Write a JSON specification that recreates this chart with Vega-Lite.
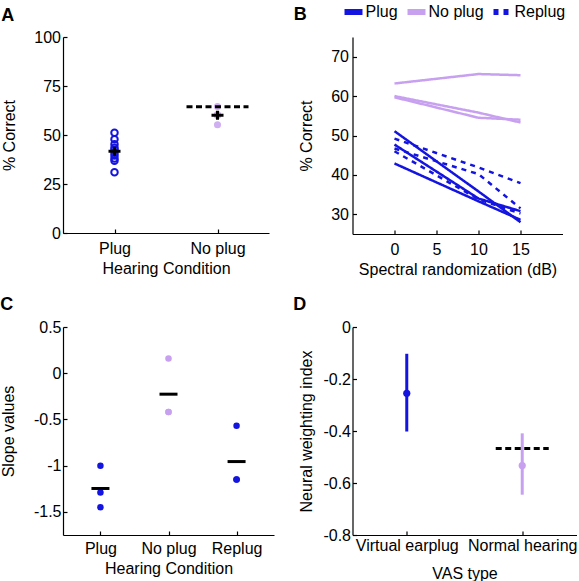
{
  "$schema": "https://vega.github.io/schema/vega-lite/v6.json",
  "padding": {"left": 0, "top": 0, "right": 0, "bottom": 0},
  "columns": 2,
  "bounds": "flush",
  "align": "each",
  "spacing": {"row": 93, "column": 78.5},
  "resolve": {"scale": {"color": "independent", "strokeDash": "independent"}, "legend": {"color": "independent", "strokeDash": "independent"}},
  "config": {
    "font": "Liberation Sans",
    "view": {"stroke": null},
    "axis": {
      "domainColor": "black", "tickColor": "black", "labelColor": "black", "titleColor": "black",
      "labelFontSize": 16, "titleFontSize": 16, "titleFontWeight": "normal",
      "labelFont": "Liberation Sans", "titleFont": "Liberation Sans",
      "grid": false, "tickSize": -4, "domainWidth": 1.2, "tickWidth": 1.2
    },
    "title": {"fontSize": 18, "fontWeight": "bold", "anchor": "start", "frame": "bounds", "color": "black", "font": "Liberation Sans"}
  },
  "concat": [
    {
      "width": 206, "height": 196,
      "title": {"text": "A", "offset": 4},
      "data": {"values": [
        {"cond": "Plug", "pct": 51.2}, {"cond": "Plug", "pct": 47.8}, {"cond": "Plug", "pct": 45.3},
        {"cond": "Plug", "pct": 43.5}, {"cond": "Plug", "pct": 42.5}, {"cond": "Plug", "pct": 41.0},
        {"cond": "Plug", "pct": 39.5}, {"cond": "Plug", "pct": 38.0}, {"cond": "Plug", "pct": 36.8},
        {"cond": "Plug", "pct": 31.0},
        {"cond": "No plug", "pct": 64.5}, {"cond": "No plug", "pct": 60.2}, {"cond": "No plug", "pct": 60.0},
        {"cond": "No plug", "pct": 60.5}, {"cond": "No plug", "pct": 55.2}
      ]},
      "encoding": {
        "x": {"field": "cond", "type": "nominal", "title": "Hearing Condition",
              "scale": {"type": "point", "domain": ["Plug", "No plug"], "padding": 0.5},
              "axis": {"labelAngle": 0, "labelPadding": 11.6, "titlePadding": 4}},
        "y": {"field": "pct", "type": "quantitative", "title": "% Correct",
              "scale": {"domain": [0, 100], "nice": false},
              "axis": {"values": [0, 25, 50, 75, 100], "labelPadding": 6.5, "titlePadding": 16.6}}
      },
      "layer": [
        {"transform": [{"filter": "datum.cond == 'Plug'"}],
         "mark": {"type": "point", "filled": false, "strokeWidth": 2, "size": 42, "color": "#1414e0", "opacity": 1}},
        {"transform": [{"filter": "datum.cond == 'No plug'"}],
         "mark": {"type": "circle", "size": 50, "color": "#c8a0f0", "opacity": 0.85}},
        {"mark": {"type": "point", "shape": "M-1.2,0H1.2M0,-0.9V0.9", "filled": false, "stroke": "black", "strokeWidth": 3, "size": 100, "opacity": 1},
         "encoding": {"y": {"aggregate": "mean", "field": "pct", "type": "quantitative"}}},
        {"data": {"values": [{"cond": "No plug", "ref": 64.4}]},
         "mark": {"type": "point", "shape": "M-1,0H1", "filled": false, "stroke": "black", "strokeWidth": 3, "strokeDash": [6, 3.5], "size": 3844, "opacity": 1},
         "encoding": {"y": {"field": "ref", "type": "quantitative"}}}
      ]
    },
    {
      "width": 210, "height": 197,
      "title": {"text": "B", "offset": -24, "dx": -5},
      "data": {"values": [
        {"cond": "Plug", "subj": "P1", "db": 0, "pct": 51.1}, {"cond": "Plug", "subj": "P1", "db": 10, "pct": 35.8}, {"cond": "Plug", "subj": "P1", "db": 15, "pct": 28.0},
        {"cond": "Plug", "subj": "P2", "db": 0, "pct": 47.7}, {"cond": "Plug", "subj": "P2", "db": 10, "pct": 34.0}, {"cond": "Plug", "subj": "P2", "db": 15, "pct": 30.8},
        {"cond": "Plug", "subj": "P3", "db": 0, "pct": 42.9}, {"cond": "Plug", "subj": "P3", "db": 10, "pct": 33.3}, {"cond": "Plug", "subj": "P3", "db": 15, "pct": 28.6},
        {"cond": "No plug", "subj": "N1", "db": 0, "pct": 63.2}, {"cond": "No plug", "subj": "N1", "db": 10, "pct": 65.6}, {"cond": "No plug", "subj": "N1", "db": 15, "pct": 65.3},
        {"cond": "No plug", "subj": "N2", "db": 0, "pct": 60.0}, {"cond": "No plug", "subj": "N2", "db": 10, "pct": 55.8}, {"cond": "No plug", "subj": "N2", "db": 15, "pct": 53.3},
        {"cond": "No plug", "subj": "N3", "db": 0, "pct": 59.7}, {"cond": "No plug", "subj": "N3", "db": 10, "pct": 54.5}, {"cond": "No plug", "subj": "N3", "db": 15, "pct": 54.0},
        {"cond": "Replug", "subj": "R1", "db": 0, "pct": 49.2}, {"cond": "Replug", "subj": "R1", "db": 10, "pct": 41.9}, {"cond": "Replug", "subj": "R1", "db": 15, "pct": 37.9},
        {"cond": "Replug", "subj": "R2", "db": 0, "pct": 46.7}, {"cond": "Replug", "subj": "R2", "db": 10, "pct": 40.2}, {"cond": "Replug", "subj": "R2", "db": 15, "pct": 31.5},
        {"cond": "Replug", "subj": "R3", "db": 0, "pct": 46.0}, {"cond": "Replug", "subj": "R3", "db": 10, "pct": 33.8}, {"cond": "Replug", "subj": "R3", "db": 15, "pct": 30.2}
      ]},
      "mark": {"type": "line", "strokeWidth": 2.5},
      "encoding": {
        "x": {"field": "db", "type": "quantitative", "title": "Spectral randomization (dB)",
              "scale": {"domain": [-5, 20], "nice": false},
              "axis": {"values": [0, 5, 10, 15], "labelPadding": 11.3, "titlePadding": 4}},
        "y": {"field": "pct", "type": "quantitative", "title": "% Correct",
              "scale": {"domain": [25, 75], "nice": false, "zero": false},
              "axis": {"values": [30, 40, 50, 60, 70], "labelPadding": 8, "titlePadding": 15.9}},
        "color": {"field": "cond", "type": "nominal", "title": null,
                  "scale": {"domain": ["Plug", "No plug", "Replug"], "range": ["#1414e0", "#c8a0f0", "#1414e0"]},
                  "legend": {"orient": "none", "legendX": -11, "legendY": -37, "direction": "horizontal",
                             "symbolType": "stroke", "symbolStrokeWidth": 6, "symbolSize": 324,
                             "labelFontSize": 16, "labelColor": "black", "columnPadding": -3, "labelOffset": 0, "padding": 0}},
        "strokeDash": {"field": "cond", "type": "nominal", "title": null,
                  "scale": {"domain": ["Plug", "No plug", "Replug"], "range": [[1, 0], [1, 0], [5, 5]]},
                  "legend": {"orient": "none", "legendX": -11, "legendY": -37, "direction": "horizontal",
                             "symbolType": "stroke", "symbolStrokeWidth": 6, "symbolSize": 324,
                             "labelFontSize": 16, "labelColor": "black", "columnPadding": -3, "labelOffset": 0, "padding": 0}},
        "detail": {"field": "subj", "type": "nominal"}
      }
    },
    {
      "width": 211, "height": 208,
      "title": {"text": "C", "offset": 5},
      "data": {"values": [
        {"cond": "Plug", "slope": -1.0}, {"cond": "Plug", "slope": -1.29}, {"cond": "Plug", "slope": -1.45},
        {"cond": "No plug", "slope": 0.16}, {"cond": "No plug", "slope": -0.42}, {"cond": "No plug", "slope": -0.42},
        {"cond": "Replug", "slope": -0.567}, {"cond": "Replug", "slope": -1.15}, {"cond": "Replug", "slope": -1.15}
      ]},
      "encoding": {
        "x": {"field": "cond", "type": "nominal", "title": "Hearing Condition",
              "scale": {"type": "point", "domain": ["Plug", "No plug", "Replug"], "padding": 0.55},
              "axis": {"labelAngle": 0, "labelPadding": 9.5, "titlePadding": 4}},
        "y": {"field": "slope", "type": "quantitative", "title": "Slope values",
              "scale": {"domain": [-1.75, 0.5], "nice": false, "zero": false},
              "axis": {"values": [0.5, 0, -0.5, -1, -1.5], "labelExpr": "toString(datum.value)", "labelPadding": 6, "titlePadding": 17.1}}
      },
      "layer": [
        {"mark": {"type": "circle", "size": 42, "opacity": 1},
         "encoding": {"color": {"field": "cond", "type": "nominal", "legend": null,
                                "scale": {"domain": ["Plug", "No plug", "Replug"], "range": ["#1414e0", "#c8a0f0", "#1414e0"]}}}},
        {"mark": {"type": "tick", "color": "black", "thickness": 3, "size": 18, "opacity": 1},
         "encoding": {"y": {"aggregate": "mean", "field": "slope", "type": "quantitative"}}}
      ]
    },
    {
      "width": 224, "height": 208,
      "title": {"text": "D", "offset": 5, "dx": -5},
      "data": {"values": [
        {"vas": "Virtual earplug", "nwi": -0.255, "lo": -0.402, "hi": -0.103},
        {"vas": "Normal hearing", "nwi": -0.533, "lo": -0.645, "hi": -0.409}
      ]},
      "encoding": {
        "x": {"field": "vas", "type": "nominal", "title": "VAS type",
              "scale": {"type": "point", "domain": ["Virtual earplug", "Normal hearing"], "padding": 0.47},
              "axis": {"labelAngle": 0, "labelPadding": 6.2, "titlePadding": 12}},
        "color": {"field": "vas", "type": "nominal", "legend": null,
                  "scale": {"domain": ["Virtual earplug", "Normal hearing"], "range": ["#1414e0", "#c8a0f0"]}}
      },
      "layer": [
        {"mark": {"type": "rule", "strokeWidth": 3},
         "encoding": {"y": {"field": "lo", "type": "quantitative", "title": "Neural weighting index",
                            "scale": {"domain": [-0.8, 0], "nice": false, "zero": false},
                            "axis": {"values": [0, -0.2, -0.4, -0.6, -0.8], "labelExpr": "toString(datum.value)", "labelPadding": 6, "titlePadding": 8.8}},
                      "y2": {"field": "hi"}}},
        {"mark": {"type": "circle", "size": 52, "opacity": 1},
         "encoding": {"y": {"field": "nwi", "type": "quantitative"}}},
        {"data": {"values": [{"vas": "Normal hearing", "ref": -0.467}]},
         "mark": {"type": "point", "shape": "M-1,0H1", "filled": false, "stroke": "black", "strokeWidth": 3, "strokeDash": [6, 3.5], "size": 2809, "opacity": 1},
         "encoding": {"y": {"field": "ref", "type": "quantitative"}, "color": {"value": "black"}}}
      ]
    }
  ]
}
